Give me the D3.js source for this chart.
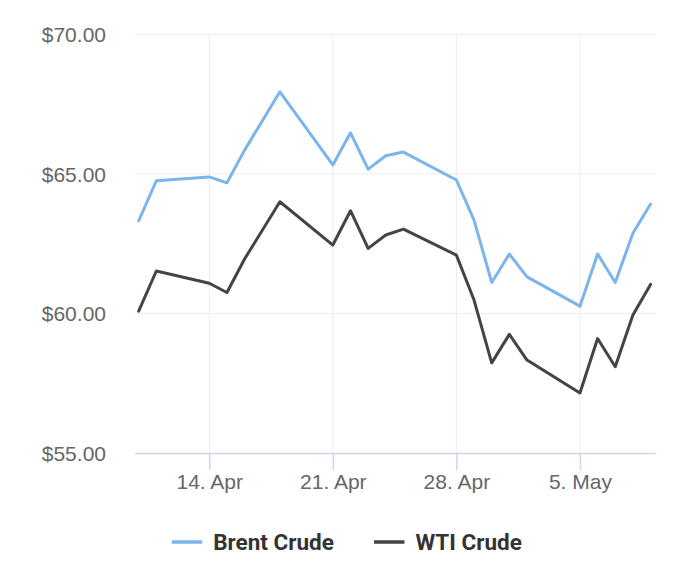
<!DOCTYPE html>
<html>
<head>
<meta charset="utf-8">
<script src="https://cdn.jsdelivr.net/npm/d3@7"></script>
<style>
  html, body { margin: 0; padding: 0; background: #fff; }
  svg { display: block; font-family: Roboto, "Noto Sans", sans-serif; }
</style>
</head>
<body>
<svg id="chart" width="700" height="576"></svg>
<script>
const dates = ["2025-04-10","2025-04-11","2025-04-14","2025-04-15","2025-04-16","2025-04-18",
  "2025-04-21","2025-04-22","2025-04-23","2025-04-24","2025-04-25","2025-04-28","2025-04-29",
  "2025-04-30","2025-05-01","2025-05-02","2025-05-05","2025-05-06","2025-05-07","2025-05-08","2025-05-09"];
const brent = [63.32,64.75,64.89,64.68,65.85,67.94,65.32,66.47,65.17,65.65,65.78,64.78,63.34,
  61.11,62.13,61.31,60.26,62.13,61.11,62.87,63.92];
const wti = [60.08,61.52,61.08,60.75,61.95,64.00,62.45,63.68,62.33,62.81,63.02,62.09,60.48,
  58.23,59.25,58.33,57.15,59.10,58.09,59.94,61.04];
const seriesNames = ["Brent Crude","WTI Crude"];
const seriesColors = ["#7cb5ec","#434348"];
const yTicks = [55,60,65,70];
const xTickDates = ["2025-04-14","2025-04-21","2025-04-28","2025-05-05"];

const parse = d3.utcParse("%Y-%m-%d");
const svg = d3.select("#chart");

const pL = 135, pR = 655.7, pT = 34.3, pB = 453;
const x = d3.scaleUtc()
  .domain([new Date(Date.UTC(2025,3,9,19,0)), new Date(Date.UTC(2025,4,9,7,0))])
  .range([pL, pR]);
const y = d3.scaleLinear().domain([55,70]).range([pB, pT]);

// grid
const g = svg.append("g");
g.selectAll("line.hg").data(yTicks.slice(1)).join("line")
  .attr("x1", pL).attr("x2", pR)
  .attr("y1", d => y(d)).attr("y2", d => y(d))
  .attr("stroke", "#ececec").attr("stroke-width", 1);
g.selectAll("line.vg").data(xTickDates.map(parse)).join("line")
  .attr("x1", d => x(d)).attr("x2", d => x(d))
  .attr("y1", pT).attr("y2", pB)
  .attr("stroke", "#ececec").attr("stroke-width", 1);

// y axis labels
const yAxis = d3.axisLeft(y).tickValues(yTicks).tickSize(0).tickPadding(0)
  .tickFormat(d => "$" + d.toFixed(2));
const ya = svg.append("g").attr("transform", `translate(106,0)`).call(yAxis);
ya.select(".domain").remove();
ya.selectAll("text").attr("fill", "#666").attr("font-size", 21).attr("dy", "0.35em");

// x axis
const xAxis = d3.axisBottom(x).tickValues(xTickDates.map(parse)).tickSize(17).tickPadding(5)
  .tickFormat(d3.utcFormat("%-d. %b"));
const xa = svg.append("g").attr("transform", `translate(0,${pB})`).call(xAxis);
xa.select(".domain").attr("d", `M${pL},0.5H${pR}`).attr("stroke", "#ccd6eb").attr("stroke-width", 1.5);
xa.selectAll(".tick line").attr("stroke", "#ccd6eb").attr("stroke-width", 1.5);
xa.selectAll("text").attr("fill", "#666").attr("font-size", 21).attr("dy", "0.35em").attr("y", 29);

// lines
const line = d3.line().x(d => x(d.date)).y(d => y(d.v));
[brent, wti].forEach((vals, i) => {
  const data = dates.map((d, j) => ({date: parse(d), v: vals[j]}));
  svg.append("path").datum(data)
    .attr("d", line)
    .attr("fill", "none")
    .attr("stroke", seriesColors[i])
    .attr("stroke-width", 3)
    .attr("stroke-linejoin", "round")
    .attr("stroke-linecap", "round");
});

// legend
const legendX = [171.7, 374];
const lg = svg.append("g");
seriesNames.forEach((name, i) => {
  lg.append("line")
    .attr("x1", legendX[i]).attr("x2", legendX[i] + 30.5)
    .attr("y1", 542).attr("y2", 542)
    .attr("stroke", seriesColors[i]).attr("stroke-width", 3.5);
  lg.append("text")
    .attr("x", legendX[i] + 41.5).attr("y", 542).attr("dy", "0.35em")
    .attr("font-size", 22.5).attr("font-weight", "bold").attr("fill", "#333")
    .text(name);
});
</script>
</body>
</html>
